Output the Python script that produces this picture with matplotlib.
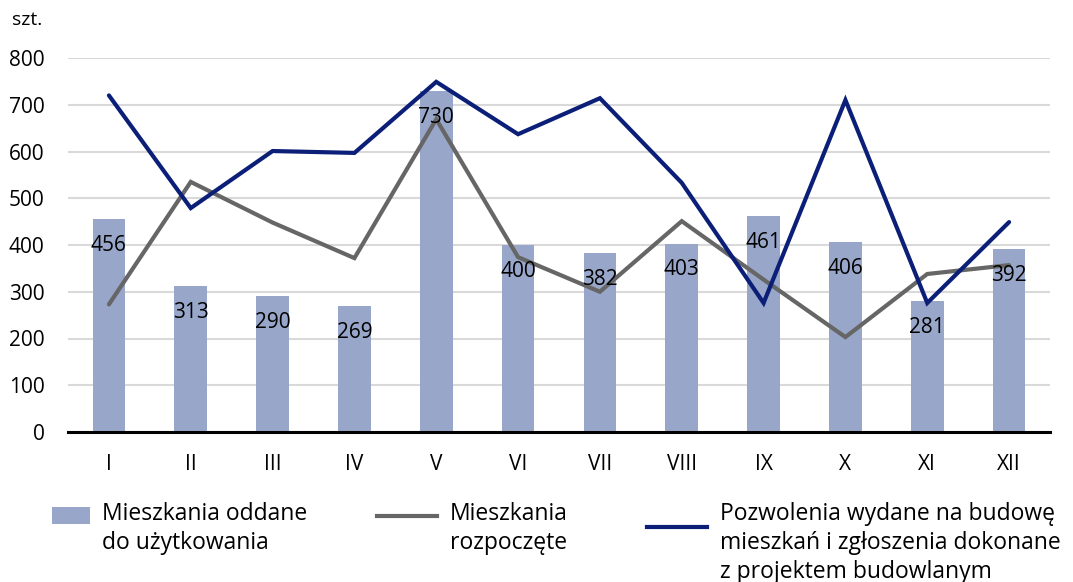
import matplotlib
matplotlib.use("Agg")
import matplotlib.pyplot as plt
from matplotlib.patches import Patch, Rectangle
from matplotlib.lines import Line2D
from matplotlib.legend_handler import HandlerPatch, HandlerLine2D

months = ["I", "II", "III", "IV", "V", "VI", "VII", "VIII", "IX", "X", "XI", "XII"]
oddane = [456, 313, 290, 269, 730, 400, 382, 403, 461, 406, 281, 392]
rozpoczete = [273, 535, 448, 372, 669, 374, 300, 451, 326, 203, 338, 357]
pozwolenia = [720, 479, 601, 597, 749, 637, 714, 533, 276, 710, 276, 449]
yticks = [0, 100, 200, 300, 400, 500, 600, 700, 800]

label_oddane = "Mieszkania oddane\ndo użytkowania"
label_rozp = "Mieszkania\nrozpoczęte"
label_pozw = "Pozwolenia wydane na budowę\nmieszkań i zgłoszenia dokonane\nz projektem budowlanym"

BAR = "#98a6c9"
GRAY = "#666666"
NAVY = "#0b1f78"

plt.rcParams["font.family"] = ["Open Sans", "DejaVu Sans"]

fig = plt.figure(figsize=(10.73, 5.82), dpi=100)
ax = fig.add_axes([68 / 1073, 1 - 432 / 582, (1050 - 68) / 1073, (432 - 58) / 582])

x = list(range(len(months)))
bars = ax.bar(x, oddane, width=0.4, color=BAR, zorder=2)
ax.plot(x, rozpoczete, color=GRAY, lw=3.0, zorder=3, solid_capstyle="round", solid_joinstyle="miter")
ax.plot(x, pozwolenia, color=NAVY, lw=3.0, zorder=4, solid_capstyle="round", solid_joinstyle="miter")

for xi, v in zip(x, oddane):
    ax.annotate(str(v), (xi, v), xytext=(0, -19), textcoords="offset points",
                ha="center", va="center", fontsize=15, color="black", zorder=5)

ax.set_xlim(-0.5, len(months) - 0.5)
ax.set_ylim(0, 800)
ax.set_yticks(yticks)
ax.set_yticklabels([str(t) for t in yticks], fontsize=15)
ax.set_xticks(x)
ax.set_xticklabels(months, fontsize=15)
ax.tick_params(axis="both", length=0)
ax.tick_params(axis="y", pad=17)
ax.tick_params(axis="x", pad=16)
ax.grid(axis="y", color="#d9d9d9", lw=1.5, zorder=0)
ax.set_axisbelow(True)
for s in ["top", "right", "left"]:
    ax.spines[s].set_visible(False)
ax.spines["bottom"].set_color("black")
ax.spines["bottom"].set_linewidth(2.2)
ax.spines["bottom"].set_zorder(6)

fig.text(12 / 1073, 1 - 20 / 582, "szt.", fontsize=14, va="center", ha="left")


# handlers that lift the legend key toward the first text line (in points)
def patch_up(dy):
    def f(legend, orig_handle, xdescent, ydescent, width, height, fontsize):
        return Rectangle((-xdescent, -ydescent + dy), width, height)
    return HandlerPatch(patch_func=f)


class LineUp(HandlerLine2D):
    def __init__(self, dy, **kw):
        super().__init__(**kw)
        self.dy = dy

    def create_artists(self, legend, orig_handle, xdescent, ydescent, width, height, fontsize, trans):
        return super().create_artists(legend, orig_handle, xdescent, ydescent - 2 * self.dy,
                                      width, height, fontsize, trans)


FS = 16.5
common = dict(frameon=False, fontsize=FS, loc="upper left", borderpad=0, borderaxespad=0,
              labelspacing=0.3)
h1 = Patch(facecolor=BAR)
h2 = Line2D([0], [0], color=GRAY, lw=3)
h3 = Line2D([0], [0], color=NAVY, lw=3)
leg1 = fig.legend([h1], [label_oddane], bbox_to_anchor=(52 / 1073, 1 - 502 / 582),
                  handlelength=1.66, handleheight=0.79, handletextpad=0.52,
                  handler_map={h1: patch_up(10)}, **common)
leg2 = fig.legend([h2], [label_rozp], bbox_to_anchor=(377 / 1073, 1 - 502 / 582),
                  handlelength=2.6, handletextpad=0.57,
                  handler_map={h2: LineUp(10)}, **common)
leg3 = fig.legend([h3], [label_pozw], bbox_to_anchor=(647 / 1073, 1 - 502 / 582),
                  handlelength=2.6, handletextpad=0.57,
                  handler_map={h3: LineUp(12)}, **common)
for lg in (leg1, leg2, leg3):
    for t in lg.get_texts():
        t.set_linespacing(1.28)

fig.savefig("out.png", dpi=100)
